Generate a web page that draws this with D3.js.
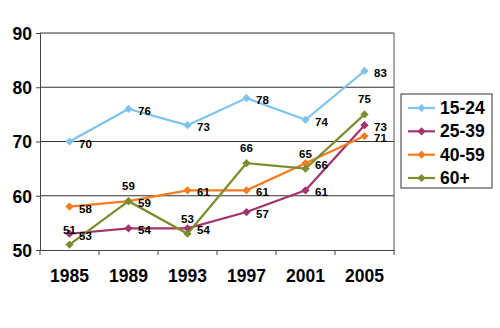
<!DOCTYPE html>
<html><head><meta charset="utf-8">
<script src="https://cdn.jsdelivr.net/npm/d3@7"></script>
<style>
html,body{margin:0;padding:0;background:#fff;}
text{font-family:"Liberation Sans",Arial,sans-serif;font-weight:bold;fill:#000;}
</style></head>
<body><svg id="c" width="500" height="328"></svg>
<script>
const years = ["1985","1989","1993","1997","2001","2005"];
const seriesNames = ["15-24","25-39","40-59","60+"];
const v1524 = [70,76,73,78,74,83];
const v2539 = [53,54,54,57,61,73];
const v4059 = [58,59,61,61,66,71];
const v60 = [51,59,53,66,65,75];
const yTicks = [50,60,70,80,90];
const colors = ["#7DC3EC","#A2336C","#F47B20","#7E8C2E"];
const labelPos = ["right","right","right","top"];

const series = [v1524,v2539,v4059,v60].map((vals,i)=>({name:seriesNames[i],vals,color:colors[i],pos:labelPos[i]}));

const svg = d3.select("#c");
const x = d3.scaleBand().domain(years).range([40,394]).padding(0);
const y = d3.scaleLinear().domain([50,90]).range([250,33]);

// gridlines
svg.append("g").selectAll("line").data(yTicks.slice(1)).join("line")
  .attr("x1",40).attr("x2",394).attr("y1",d=>y(d)).attr("y2",d=>y(d))
  .attr("stroke","#333").attr("stroke-width",1);
// right border
svg.append("line").attr("x1",394).attr("x2",394).attr("y1",y(90)).attr("y2",y(50)).attr("stroke","#555");

// y axis
const ya = svg.append("g").attr("transform","translate(40,0)")
  .call(d3.axisLeft(y).tickValues(yTicks).tickSize(4).tickPadding(4));
ya.select(".domain").attr("stroke","#444");
ya.selectAll(".tick line").attr("stroke","#444");
ya.selectAll("text").style("font-size","17.5px").attr("dy","0.36em");

// x axis
const xa = svg.append("g").attr("transform","translate(0,250)")
  .call(d3.axisBottom(x).tickSize(0).tickPadding(20));
xa.select(".domain").attr("stroke","#444");
xa.selectAll("text").style("font-size","17.5px");
// tick marks at band boundaries
const bounds = years.map(d=>x(d)).concat([x(years[years.length-1])+x.bandwidth()]);
svg.append("g").selectAll("line").data(bounds).join("line")
  .attr("x1",d=>d).attr("x2",d=>d).attr("y1",250).attr("y2",255)
  .attr("stroke","#444");

const cx = d=>x(d)+x.bandwidth()/2;
const diamond = d3.symbol().type(d3.symbolSquare).size(34);

series.forEach(s=>{
  const g = svg.append("g");
  g.append("path").datum(s.vals)
    .attr("d", d3.line().x((d,i)=>cx(years[i])).y(d=>y(d)))
    .attr("fill","none").attr("stroke",s.color).attr("stroke-width",2.2);
  g.selectAll("path.m").data(s.vals).join("path").attr("class","m")
    .attr("d",diamond)
    .attr("transform",(d,i)=>`translate(${cx(years[i])},${y(d)}) rotate(45)`)
    .attr("fill",s.color);
});
series.forEach(s=>{
  svg.append("g").selectAll("text").data(s.vals).join("text")
    .attr("x",(d,i)=> s.pos==="top" ? cx(years[i]) : cx(years[i])+9.5)
    .attr("y",d=> s.pos==="top" ? y(d)-15 : y(d)+2)
    .attr("text-anchor", s.pos==="top" ? "middle":"start")
    .attr("dominant-baseline","central")
    .style("font-size","11.5px")
    .text(d=>d);
});

// legend
const lg = svg.append("g");
lg.append("rect").attr("x",401).attr("y",94).attr("width",91).attr("height",94)
  .attr("fill","#fff").attr("stroke","#333").attr("stroke-width",1);
const ly = d3.scalePoint().domain(seriesNames).range([108,178]);
series.forEach(s=>{
  const yy = ly(s.name);
  lg.append("line").attr("x1",408).attr("x2",435).attr("y1",yy).attr("y2",yy)
    .attr("stroke",s.color).attr("stroke-width",2.2);
  lg.append("path").attr("d",diamond).attr("transform",`translate(421.5,${yy}) rotate(45)`).attr("fill",s.color);
  lg.append("text").attr("x",440).attr("y",yy).attr("dominant-baseline","central")
    .style("font-size","17.5px").text(s.name);
});
</script></body></html>
